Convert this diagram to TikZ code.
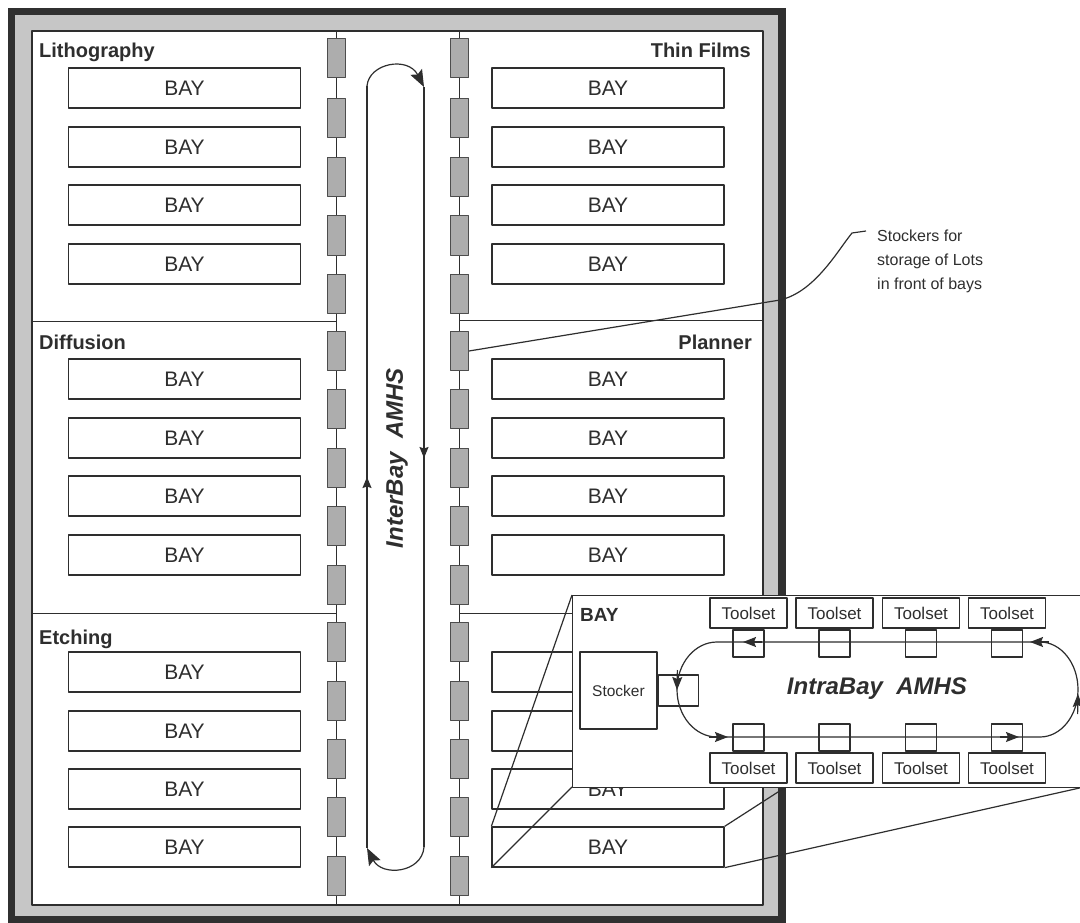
\documentclass[tikz,border=0pt]{standalone}
\usepackage{fontspec}
\setmainfont{Liberation Sans}
\usetikzlibrary{arrows.meta}
\definecolor{framedark}{HTML}{303030}
\definecolor{framegray}{HTML}{C6C6C6}
\definecolor{ink}{HTML}{2E2E2E}
\definecolor{stockfill}{HTML}{ADADAD}
\begin{document}
\begin{tikzpicture}[x=1pt,y=-1pt,line join=round,
  ln/.style={draw=ink,line width=1.2pt},
  baybox/.style={draw=ink,line width=1.3pt,fill=white,minimum width=232pt,minimum height=40pt,inner sep=0pt,text=ink,font=\fontsize{21}{24}\selectfont},
  stk/.style={draw=ink!85,line width=1pt,fill=stockfill,minimum width=18pt,minimum height=39pt,inner sep=0pt},
  sect/.style={inner sep=0pt,text=ink,font=\bfseries\fontsize{20}{24}\selectfont},
  toolbox/.style={draw=ink,line width=1.2pt,fill=white,minimum width=77pt,minimum height=30pt,inner sep=0pt,text=ink,font=\fontsize{17}{20}\selectfont},
  portbox/.style={draw=ink,line width=1.2pt,minimum width=31pt,minimum height=27pt,inner sep=0pt},
  tipline/.style={draw=ink,line width=1.2pt,-{Stealth[length=17pt,width=13pt,inset=3pt]}},
  smalltip/.style={draw=ink,line width=1.2pt,-{Stealth[length=13pt,width=10pt,inset=2pt]}},
  bigtitle/.style={inner sep=0pt,text=ink,font=\bfseries\itshape\fontsize{24}{28}\selectfont},
]
\useasboundingbox (0,0) rectangle (1080,923);
% frame
\fill[framedark] (8,8) rectangle (786,923);
\fill[framegray] (15,15) rectangle (778,916);
\draw[ink,fill=white,line width=1.2pt] (32,31) rectangle (763,905);

% stocker column lines and dividers
\coordinate (cLt) at (336,31);  \coordinate (cLb) at (336,905);
\coordinate (cRt) at (459.5,31); \coordinate (cRb) at (459.5,905);
\draw[ln,line width=0.9pt] (cLt) -- (cLb);
\draw[ln,line width=0.9pt] (cRt) -- (cRb);
\coordinate (dL1a) at (32,321); \coordinate (dL1b) at (336,321);
\coordinate (dL2a) at (32,613); \coordinate (dL2b) at (336,613);
\coordinate (dR1a) at (459.5,320); \coordinate (dR1b) at (763,320);
\coordinate (dR2a) at (459.5,613); \coordinate (dR2b) at (763,613);
\draw[ln,line width=1pt] (dL1a) -- (dL1b);
\draw[ln,line width=1pt] (dL2a) -- (dL2b);
\draw[ln,line width=1pt] (dR1a) -- (dR1b);
\draw[ln,line width=1pt] (dR2a) -- (dR2b);

% stockers
\foreach \y [count=\i] in {58.5,118,177,235.5,293.5,351,409,467.5,526,585,642,701,759,817,876}{
  \node[stk] (sL\i) at (336,\y) {};
  \node[stk] (sR\i) at (459.5,\y) {};
}

% bays
\foreach \y [count=\i] in {88,147,205,264,379,438,496,555,672,731,789,847}{
  \node[baybox] (bayL\i) at (184.5,\y) {BAY};
  \node[baybox] (bayR\i) at (608,\y) {BAY};
}

% section labels
\node[sect,anchor=base west] (lith) at (39,58) {Lithography};
\node[sect,anchor=base east] (thin) at (751,58) {Thin Films};
\node[sect,anchor=base west] (diff) at (39,349) {Diffusion};
\node[sect,anchor=base east] (plan) at (752,349) {Planner};
\node[sect,anchor=base west] (etch) at (39,644) {Etching};

% InterBay loop
\coordinate (iLt) at (367,86);  \coordinate (iLb) at (367,848);
\coordinate (iRt) at (424,87);  \coordinate (iRb) at (424,847);
\draw[ln] (iLt) -- (iLb);
\draw[ln] (iRt) -- (iRb);
\draw[tipline] (iLt) .. controls (369,63) and (408,56) .. (iRt);
\draw[tipline] (iRb) .. controls (422,873) and (382,877) .. (iLb);
\draw[smalltip,-{Stealth[length=11pt,width=9pt,inset=1.5pt]}] (367,492) -- (367,477);
\draw[smalltip,-{Stealth[length=11pt,width=9pt,inset=1.5pt]}] (424,443) -- (424,458);
\node[bigtitle,rotate=90] (inter) at (397,458) {InterBay\ \ AMHS};

% callout for stockers
\node[inner sep=0pt,anchor=north west,align=left,text=ink,font=\fontsize{16}{24}\selectfont] (note) at (877,229.5) {Stockers for\\storage of Lots\\in front of bays};
\coordinate (noteTick) at (866,231);
\draw[ln] (sR6.east) -- (780,300) .. controls (815,292) and (838,250) .. (852,233) -- (noteTick);

% zoom lines to inset
\coordinate (insNW) at (572,595); \coordinate (insSW) at (572,787);
\coordinate (insNE) at (1084,595); \coordinate (insSE) at (1084,787);
\draw[ln] (bayR12.north west) -- (insNW);
\draw[ln] (bayR12.south west) -- (insSW);
\draw[ln] (bayR12.north east) -- (insNE);
\draw[ln] (bayR12.south east) -- (insSE);

% inset
\node[draw=ink,line width=1.3pt,fill=white,inner sep=0pt,minimum width=512pt,minimum height=192pt,anchor=north west] (inset) at (insNW) {};
\node[sect,anchor=base west,font=\bfseries\fontsize{19}{22}\selectfont] (insetlabel) at (580,621) {BAY};
\node[draw=ink,line width=1.2pt,inner sep=0pt,minimum width=77pt,minimum height=77pt,text=ink,font=\fontsize{15.5}{18}\selectfont] (stocker) at (618.5,690.5) {Stocker};
\node[draw=ink,line width=1.2pt,inner sep=0pt,minimum width=40pt,minimum height=31pt,anchor=west] (sport) at (stocker.east) {};

% IntraBay loop
\draw[ln] (717,642) -- (1040,642) arc[start angle=-90,end angle=90,x radius=38,y radius=47.5] -- (717,737) arc[start angle=90,end angle=270,x radius=40,y radius=47.5] -- cycle;
\foreach \x [count=\i] in {748.5,834.5,921,1007}{
  \node[toolbox] (tt\i) at (\x,613) {Toolset};
  \node[portbox] (pt\i) at (\x,643.5) {};
  \node[portbox] (pb\i) at (\x,737.5) {};
  \node[toolbox] (tb\i) at (\x,768) {Toolset};
}
\draw[smalltip] (762,642) -- (743,642);
\draw[smalltip] (1049,642) -- (1030,642);
\draw[smalltip] (709,737) -- (728,737);
\draw[smalltip] (1000,737) -- (1019,737);
\draw[smalltip] (677.4,670) -- (677,690);
\draw[smalltip] (1077.6,714) -- (1078,694);
\node[bigtitle] (intra) at (877,689) {IntraBay\ \ AMHS};
\end{tikzpicture}
\end{document}
